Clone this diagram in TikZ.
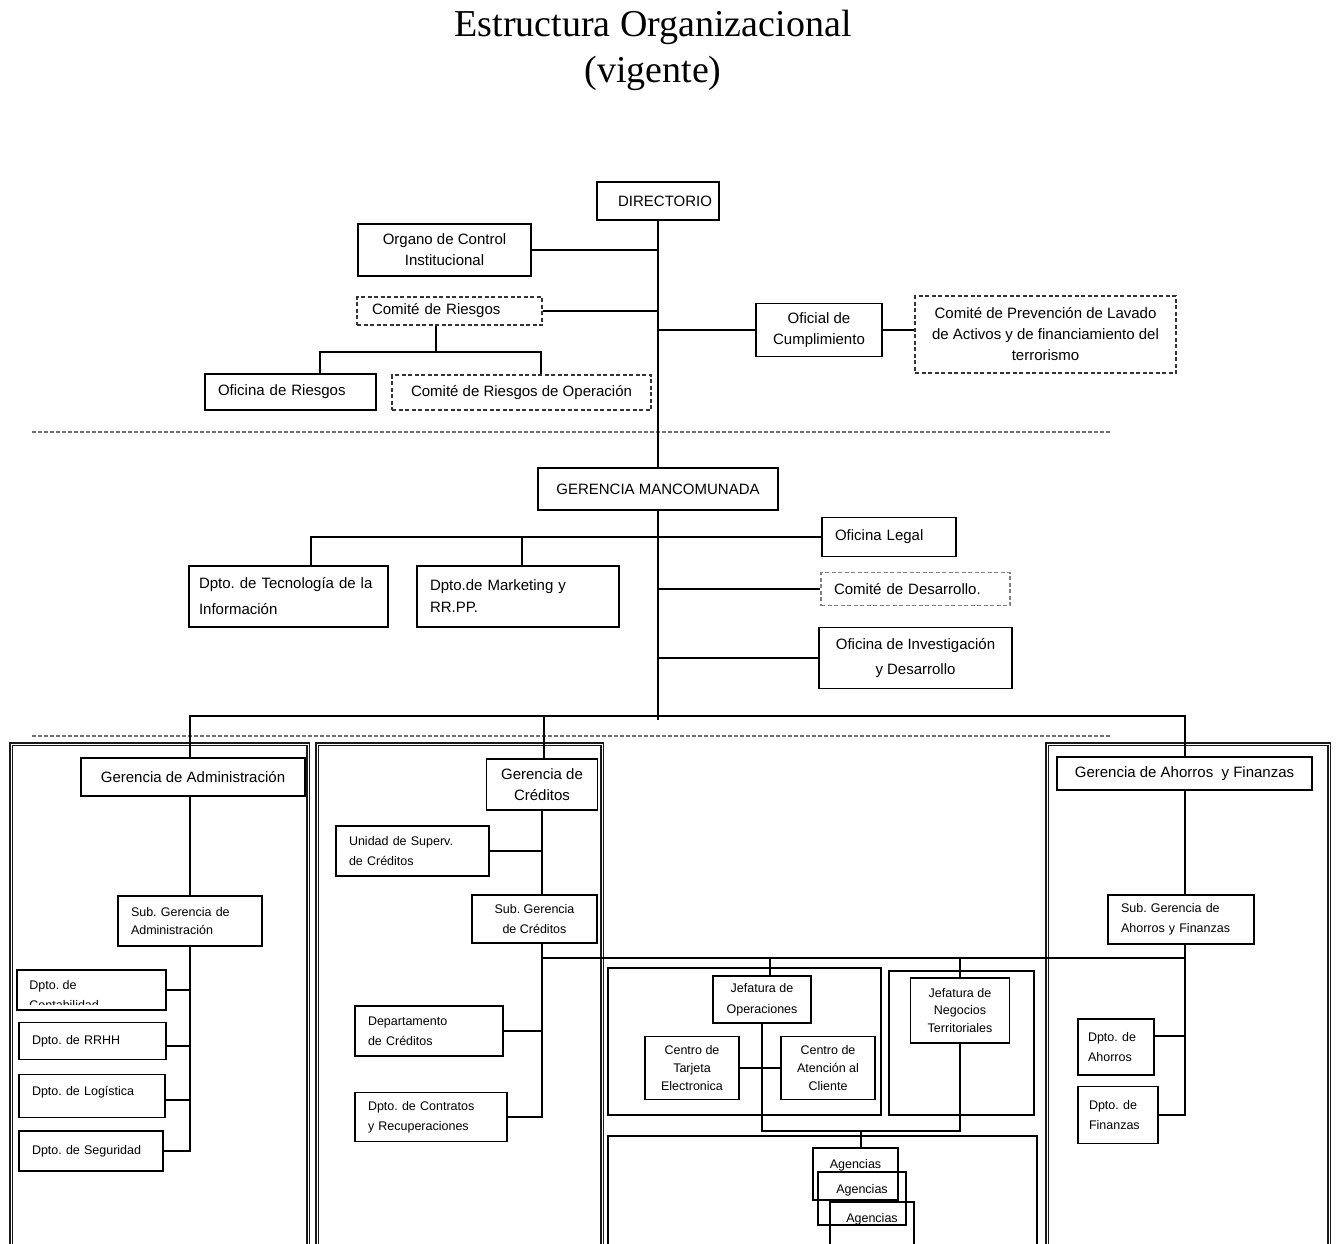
\documentclass[tikz,border=0pt]{standalone}
\usepackage{fontspec}
\setmainfont{Liberation Serif}
\setsansfont{Liberation Sans}
\usetikzlibrary{positioning}
\frenchspacing
\newcommand{\sfsize}[2]{\sffamily\fontsize{#1}{#2}\selectfont}
\tikzstyle{unit} = [rectangle, draw=black, line width=1.6pt, inner sep=0pt, align=center,
font=\sfsize{15}{21}]
\tikzstyle{cmte} = [unit, draw=black!80, dash pattern=on 4pt off 2.5pt]
\tikzstyle{link} = [line width=1.6pt]
\tikzstyle{sep} = [draw=black!55, line width=2pt, dash pattern=on 4pt off 2pt]
\tikzstyle{outer} = [draw=black!90, line width=1.1pt, double=white, double distance=0.9pt]
\tikzstyle{zone} = [draw=black, line width=1.8pt]
\tikzset{sz/.style 2 args={minimum width=#1pt, minimum height=#2pt},
  lft/.style={align=left, inner xsep=13pt, text width=#1}}

\begin{document}
\begin{tikzpicture}[x=1pt, y=-1pt]
  \useasboundingbox (0,0) rectangle (1337,1243);
  \clip (0,0) rectangle (1337,1243);

  \node (title) [font=\rmfamily\fontsize{38}{46}\selectfont, align=center] at (653,50)
  {Estructura Organizacional\\(vigente)};

  \draw[sep] (32,432) -- (1110,432);
  \draw[sep] (32,736) -- (1110,736);
  \draw[outer] (11,744) rectangle (308,1265);
  \draw[outer] (317,744) rectangle (602,1265);
  \draw[outer] (1047,744) rectangle (1329,1265);
  \draw[zone] (608,968) rectangle (881,1115);
  \draw[zone] (889,971) rectangle (1034,1115);
  \draw[zone] (608,1136) rectangle (1037,1265);

  % directorio
  \node (dir) [unit, sz={122}{38}, text width=108pt, inner xsep=7pt, align=right] at (658,201)
  {DIRECTORIO};
  \node (organo) [unit, sz={173}{52}] at (444.5,250) {Organo de Control\\Institucional};
  \node (criesgo) [cmte, sz={185}{28}, lft=155pt, inner xsep=15pt] at (449.5,311)
  {Comité de Riesgos};
  \node (ofriesgo) [unit, sz={171}{36}, lft=145pt] at (290.5,392) {Oficina de Riesgos};
  \node (cro) [cmte, sz={259}{35}] at (521.5,392.5) {Comité de Riesgos de Operación};
  \node (ofcum) [unit, sz={126}{53}] at (819,330) {Oficial de\\Cumplimiento};
  \node (cprev) [cmte, sz={261}{77}] at (1045.5,334.5)
  {Comité de Prevención de Lavado\\de Activos y de financiamiento del\\terrorismo};

  % gerencia mancomunada
  \node (gman) [unit, sz={240}{42}] at (658,489) {GERENCIA MANCOMUNADA};
  \node (legal) [unit, sz={134}{39}, lft=108pt] at (889,537) {Oficina Legal};
  \node (tec) [unit, sz={199}{61}, lft=179pt, inner xsep=10pt, font=\sfsize{15}{26}]
  at (288.5,596.5) {Dpto. de Tecnología de la\\Información};
  \node (mkt) [unit, sz={202}{61}, lft=176pt, font=\sfsize{15}{22}] at (518,596.5)
  {Dpto.de Marketing y\\RR.PP.};
  \node (cdes) [cmte, draw=gray, sz={189}{33}, lft=163pt] at (915.5,589)
  {Comité de Desarrollo.};
  \node (inv) [unit, sz={193}{61}, font=\sfsize{15}{25}] at (915.5,658)
  {Oficina de Investigación\\y Desarrollo};

  % administracion
  \node (gadm) [unit, sz={224}{38}] at (193,777) {Gerencia de Administración};
  \node (sadm) [unit, sz={144}{50}, lft=118pt, font=\sfsize{12.5}{18}] at (190,921)
  {Sub. Gerencia de\\Administración};
  \node (contab) [unit, sz={149}{40}] at (91.5,990) {};
  \begin{scope}
    \clip (contab.north west) rectangle ([yshift=6pt]contab.south east);
    \node (contabtxt) [font=\sfsize{12.5}{20}, align=left, anchor=north west, inner sep=0pt]
    at ([xshift=13pt, yshift=-11pt]contab.north west) {Dpto. de\\Contabilidad};
  \end{scope}
  \node (rrhh) [unit, sz={147}{37}, lft=121pt, font=\sfsize{12.5}{19}] at (92.5,1041)
  {Dpto. de RRHH};
  \node (log) [unit, sz={146}{43}, lft=120pt, text depth=11pt, font=\sfsize{12.5}{19}]
  at (92,1096) {Dpto. de Logística};
  \node (seg) [unit, sz={144}{40}, lft=118pt, font=\sfsize{12.5}{19}] at (91,1151)
  {Dpto. de Seguridad};

  % creditos
  \node (gcre) [unit, sz={111}{51}] at (542,784.5) {Gerencia de\\Créditos};
  \node (usup) [unit, sz={153}{50}, lft=127pt, font=\sfsize{12.5}{20}] at (412.5,851)
  {Unidad de Superv.\\de Créditos};
  \node (scre) [unit, sz={125}{48}, font=\sfsize{12.5}{20}] at (534.5,919)
  {Sub. Gerencia\\de Créditos};
  \node (dcre) [unit, sz={148}{50}, lft=122pt, font=\sfsize{12.5}{20}] at (429,1031)
  {Departamento\\de Créditos};
  \node (dcon) [unit, sz={152}{49}, lft=126pt, font=\sfsize{12.5}{20}] at (431,1117)
  {Dpto. de Contratos\\y Recuperaciones};
  \node (jop) [unit, sz={98}{47}, font=\sfsize{12.5}{21}] at (762,999.5)
  {Jefatura de\\Operaciones};
  \node (ctar) [unit, sz={94}{63}, font=\sfsize{12.5}{18}] at (692,1068)
  {Centro de\\Tarjeta\\Electronica};
  \node (caten) [unit, sz={94}{63}, font=\sfsize{12.5}{18}] at (828,1068)
  {Centro de\\Atención al\\Cliente};
  \node (jneg) [unit, sz={99}{65}, font=\sfsize{12.5}{17.5}] at (960,1010.5)
  {Jefatura de\\Negocios\\Territoriales};
  \node (ag1) [unit, sz={85}{52}, text depth=20pt, font=\sfsize{12.5}{19}] at (855.5,1174)
  {Agencias};
  \node (ag2) [unit, sz={88}{53}, text depth=20pt, font=\sfsize{12.5}{19}] at (862,1198.5)
  {Agencias};
  \node (ag3) [unit, sz={84}{52}, text depth=20pt, font=\sfsize{12.5}{19}] at (872,1228)
  {Agencias};

  % ahorros
  \node (gaho) [unit, sz={255}{33}] at (1184.5,773.5) {Gerencia de Ahorros~ y Finanzas};
  \node (saho) [unit, sz={146}{49}, lft=120pt, font=\sfsize{12.5}{20}] at (1181,919.5)
  {Sub. Gerencia de\\Ahorros y Finanzas};
  \node (daho) [unit, sz={76}{56}, lft=56pt, inner xsep=10pt, font=\sfsize{12.5}{20}]
  at (1116,1047) {Dpto. de\\Ahorros};
  \node (dfin) [unit, sz={80}{57}, lft=58pt, inner xsep=11pt, font=\sfsize{12.5}{20}]
  at (1118,1115) {Dpto. de\\Finanzas};

  \coordinate (rk) at (436,352);
  \coordinate (rkl) at (320,352);
  \coordinate (rkr) at (541,352);
  \coordinate (gt) at (311,537);
  \coordinate (gm) at (522,537);
  \coordinate (sp) at (658,720);
  \coordinate (ha) at (190,716);
  \coordinate (hc) at (544,716);
  \coordinate (hf) at (1185,716);
  \coordinate (hm) at (542,958);
  \coordinate (hb) at (861,1131);

  \draw[link] (dir) -- (gman);
  \draw[link] (gman) -- (sp);
  \draw[link] (organo) -- (organo -| dir);
  \draw[link] (criesgo) -- (criesgo -| dir);
  \draw[link] (rk |- criesgo.south) -- (rk);
  \draw[link] (rkl |- ofriesgo.north) -- (rkl) -- (rkr) -- (rkr |- cro.north);
  \draw[link] (ofcum) -- (ofcum -| dir);
  \draw[link] (ofcum) -- (ofcum -| cprev.west);
  \draw[link] (legal) -- (gt) -- (gt |- tec.north);
  \draw[link] (gm) -- (gm |- mkt.north);
  \draw[link] (cdes) -- (cdes -| gman);
  \draw[link] (inv) -- (inv -| gman);
  \draw[link] (ha |- gadm.north) -- (ha) -- (hf) -- (hf |- gaho.north);
  \draw[link] (hc) -- (hc |- gcre.north);

  \draw[link] (gadm.south -| ha) -- (sadm);
  \draw[link] (sadm) -- (sadm |- seg) -- (seg);
  \draw[link] (contab) -- (contab -| sadm);
  \draw[link] ([yshift=-5pt]rrhh.east) -- ([yshift=-5pt]rrhh.east -| sadm);
  \draw[link] ([yshift=-4pt]log.east) -- ([yshift=-4pt]log.east -| sadm);

  \draw[link] (gcre) -- (gcre |- scre.north);
  \draw[link] (usup) -- (usup -| gcre);
  \draw[link] (scre.south -| gcre) -- (gcre |- dcon) -- (dcon);
  \draw[link] (dcre) -- (dcre -| gcre);
  \draw[link] (hm) -- (hm -| hf);
  \draw[link] ([xshift=8pt]jop.north |- hm) -- ([xshift=8pt]jop.north);
  \draw[link] (jneg |- hm) -- (jneg);
  \draw[link] (ctar) -- (caten);
  \draw[link] (jop) -- (jop |- hb) -- (hb -| jneg) -- (jneg);
  \draw[link] (hb) -- (hb |- ag1.north);

  \draw[link] (gaho.south -| hf) -- (saho.north -| hf);
  \draw[link] (saho.south -| hf) -- (hf |- dfin) -- (dfin);
  \draw[link] ([yshift=11pt]daho.east) -- ([yshift=11pt]daho.east -| hf);
\end{tikzpicture}
\end{document}
